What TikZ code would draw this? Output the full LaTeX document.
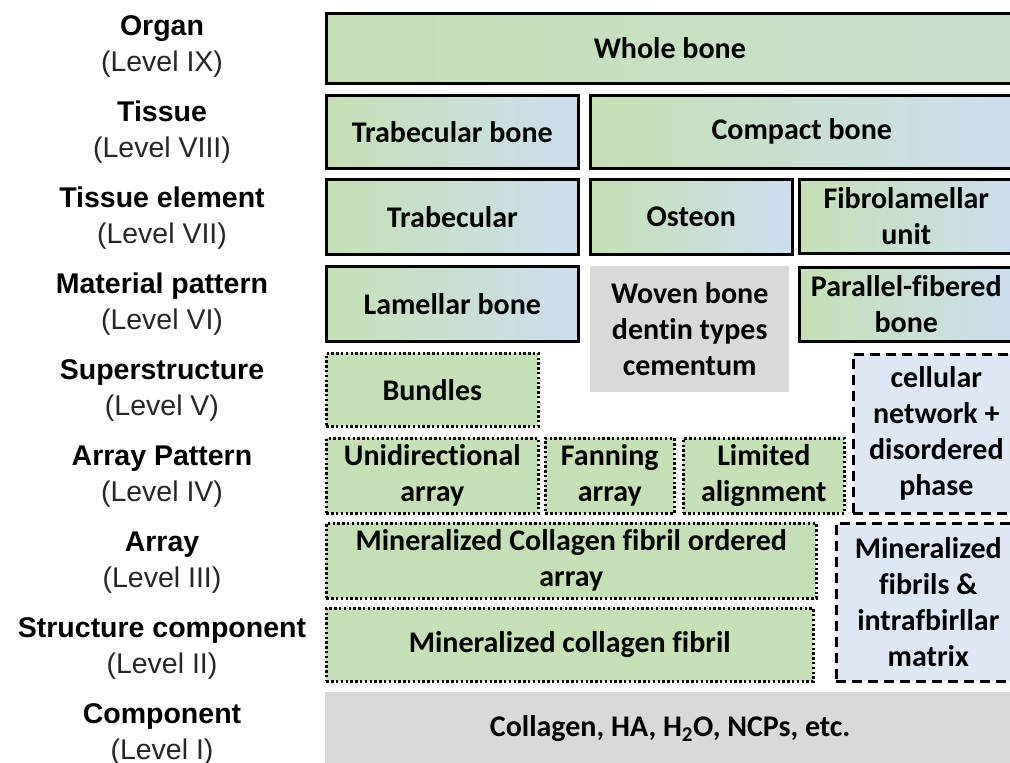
\documentclass[tikz,border=0pt]{standalone}
\usepackage{fontspec}
\setmainfont{Carlito}[Ligatures=NoCommon]
\newfontfamily\arialf{Liberation Sans}
\definecolor{gA}{HTML}{C5E0B4}
\definecolor{bA}{HTML}{CCDEEF}
\definecolor{dbl}{HTML}{DEE8F5}
\definecolor{gry}{HTML}{D9D9D9}
\newcommand\boxfont{\bfseries\fontsize{30}{36}\selectfont}
\tikzset{
 box/.style={anchor=north west, inner sep=0pt, align=center, font=\boxfont},
 solidbox/.style={box, draw=black, line width=2.6pt, left color=gA, right color=bA},
 dotbox/.style={box, draw=black, line width=2.6pt, fill=gA, dash pattern=on 2.4pt off 2.4pt},
 dashbox/.style={box, draw=black, line width=2.6pt, fill=dbl, dash pattern=on 10pt off 6pt},
 graybox/.style={box, fill=gry},
 lvl/.style={anchor=base, text=black!85, font=\arialf\fontsize{28.5}{34}\selectfont},
 ttl/.style={anchor=base, font=\arialf\bfseries\fontsize{28.5}{34}\selectfont},
}
\begin{document}
\begin{tikzpicture}[x=1pt,y=-1pt]
\fill[white] (0,0) rectangle (1010,763);
\clip (0,0) rectangle (1010,763);
% level labels
\foreach \i/\t/\l in {0/Organ/IX, 1/Tissue/VIII, 2/Tissue element/VII, 3/Material pattern/VI, 4/Superstructure/V, 5/Array Pattern/IV, 6/Array/III, 7/Structure component/II, 8/Component/I}{
  \node[ttl] (t\i) at (162,{35+86*\i}) {\t};
  \node[lvl] (l\i) at (162,{71+86*\i}) {(Level \l)};
}
% boxes
\node[solidbox, minimum width=687pt, minimum height=70pt, left color=gA, right color=gA!55!bA] (whole) at (325,12) {Whole bone};
\node[solidbox, minimum width=252pt, minimum height=73pt] (trabb) at (325,94) {Trabecular bone};
\node[solidbox, minimum width=423pt, minimum height=73pt] (compact) at (589,94) {Compact bone};
\node[solidbox, minimum width=252pt, minimum height=75pt] (trab) at (325,178) {Trabecular};
\node[solidbox, minimum width=202pt, minimum height=75pt] (osteon) at (589,178) {Osteon};
\node[solidbox, minimum width=214pt, minimum height=74pt] (fibro) at (798,178) {Fibrolamellar\\unit};
\node[solidbox, minimum width=252pt, minimum height=75pt] (lamellar) at (325,265) {Lamellar bone};
\node[graybox, minimum width=199pt, minimum height=126pt] (woven) at (590,266) {Woven bone\\dentin types\\cementum};
\node[solidbox, minimum width=214pt, minimum height=74pt] (parallel) at (798,266) {Parallel-fibered\\bone};
\node[dotbox, minimum width=212pt, minimum height=73pt] (bundles) at (325,352) {Bundles};
\node[dashbox, minimum width=166pt, minimum height=159pt] (cellular) at (852,353) {cellular\\network +\\disordered\\phase};
\node[dotbox, minimum width=212pt, minimum height=75pt] (uni) at (325,437) {Unidirectional\\array};
\node[dotbox, minimum width=129pt, minimum height=75pt] (fanning) at (544,437) {Fanning\\array};
\node[dotbox, minimum width=161pt, minimum height=75pt] (limited) at (682,437) {Limited\\alignment};
\node[dotbox, minimum width=490pt, minimum height=75pt] (ordered) at (325,522) {Mineralized Collagen fibril ordered\\array};
\node[dashbox, minimum width=184pt, minimum height=158pt] (minfib) at (835,522) {Mineralized\\fibrils \&\\intrafbirllar\\matrix};
\node[dotbox, minimum width=487pt, minimum height=73pt] (fibril) at (325,607) {Mineralized collagen fibril};
\node[graybox, minimum width=690pt, minimum height=72pt] (comp) at (325,692) {Collagen, HA, H\textsubscript{2}O, NCPs, etc.};
\end{tikzpicture}
\end{document}
